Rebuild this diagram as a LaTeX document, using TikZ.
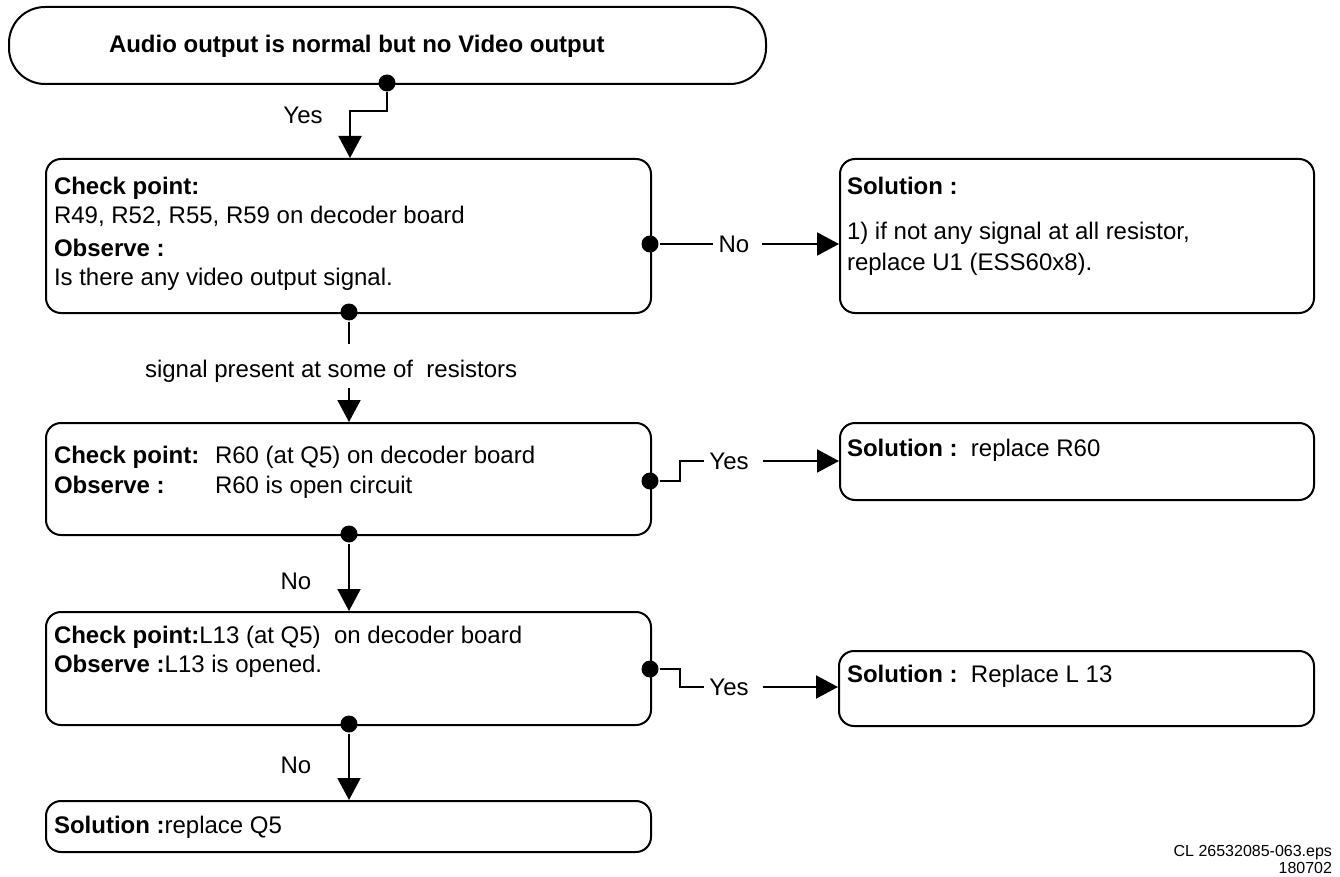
\documentclass[tikz,border=0pt]{standalone}
\usepackage{fontspec}
\setmainfont{Liberation Sans}
\usetikzlibrary{arrows.meta}

\begin{document}
\begin{tikzpicture}[x=1pt, y=-1pt, line width=2pt,
    box/.style={draw, rounded corners=15pt, anchor=north west, inner sep=0pt},
    dot/.style={circle, fill, inner sep=0pt, minimum size=17pt},
    txt/.style={anchor=base west, inner sep=0pt, font=\fontsize{24}{30}\selectfont},
    lbl/.style={inner sep=0pt, font=\fontsize{24}{30}\selectfont},
    note/.style={anchor=base east, inner sep=0pt, font=\fontsize{16}{17}\selectfont},
    arr/.style={-{Triangle[length=22pt, width=23pt]}}]
        \useasboundingbox (0,0) rectangle (1340,877);

        % Start
        \node[box, rounded corners=36pt, minimum width=757pt, minimum height=77pt] (start) at (8,6) {};
        \node[txt] (t0) at (108,53) {\bfseries Audio output is normal but no Video output};

        % Check boxes
        \node[box, minimum width=605pt, minimum height=154pt] (chk1) at (45,158) {};
        \node[box, minimum width=605pt, minimum height=112pt] (chk2) at (45,422) {};
        \node[box, minimum width=605pt, minimum height=113pt] (chk3) at (45,611) {};
        \node[box, minimum width=605pt, minimum height=51pt]  (fix)  at (45,800) {};

        % Solution boxes
        \node[box, minimum width=474pt, minimum height=154pt] (sol1) at (839,158) {};
        \node[box, minimum width=474pt, minimum height=77pt]  (sol2) at (839,422) {};
        \node[box, minimum width=475pt, minimum height=75pt]  (sol3) at (838,650) {};

        % Texts
        \node[txt] (c1a) at (53,195) {\bfseries Check point:};
        \node[txt] (c1b) at (53,224) {R49, R52, R55, R59 on decoder board};
        \node[txt] (c1c) at (53,256) {\bfseries Observe :};
        \node[txt] (c1d) at (53,285) {Is there any video output signal.};
        \node[txt] (s1a) at (846,195) {\bfseries Solution :};
        \node[txt] (s1b) at (846,240) {1) if not any signal at all resistor,};
        \node[txt] (s1c) at (846,270) {replace U1 (ESS60x8).};
        \node[txt] (c2a) at (53,463) {\bfseries Check point:};
        \node[txt] (c2b) at (214,463) {R60 (at Q5) on decoder board};
        \node[txt] (c2c) at (53,493) {\bfseries Observe :};
        \node[txt] (c2d) at (214,493) {R60 is open circuit};
        \node[txt] (s2a) at (846,456) {\textbf{Solution :}\ \ replace R60};
        \node[txt] (c3a) at (53,643) {\textbf{Check point:}L13 (at Q5)\ \ on decoder board};
        \node[txt] (c3b) at (53,672) {\textbf{Observe :}L13 is opened.};
        \node[txt] (s3a) at (846,682) {\textbf{Solution :}\ \ Replace L 13};
        \node[txt] (f1)  at (53,833) {\textbf{Solution :}replace Q5};

        % Dots
        \node[dot] (d0)  at (387,83)  {};
        \node[dot] (d1)  at (650,244) {};
        \node[dot] (d1b) at (349,312) {};
        \node[dot] (d2)  at (650,481) {};
        \node[dot] (d2b) at (349,534) {};
        \node[dot] (d3)  at (650,669) {};
        \node[dot] (d3b) at (349,724) {};

        % Labels
        \node[lbl] (yes0) at (303,115) {Yes};
        \node[lbl] (no1)  at (734,244) {No};
        \node[txt] (sig)  at (144,377) {signal present at some of\ \ resistors};
        \node[lbl] (yes2) at (729,461) {Yes};
        \node[lbl] (no2)  at (296,581) {No};
        \node[lbl] (yes3) at (729,687) {Yes};
        \node[lbl] (no3)  at (296,765) {No};
        \coordinate (s0) at (350,158);
        \coordinate (s1) at (349,344);
        \coordinate (s2) at (349,388);

        % Connectors
        \draw[arr] (d0) -- ++(0,28) -| (s0);
        \draw[shorten >=5pt] (d1) -- (no1.west);
        \draw[arr, shorten <=12pt] (no1.east) -- (no1.east -| sol1.west);
        \draw (d1b) -- (s1);
        \draw[arr] (s2) -- (s2 |- chk2.north);
        \draw[shorten >=4pt] (d2) -| ([xshift=-28pt]yes2.west) -- (yes2.west);
        \draw[arr, shorten <=13pt] (yes2.east) -- (yes2.east -| sol2.west);
        \draw[arr] (d2b) -- (d2b |- chk3.north);
        \draw[shorten >=4pt] (d3) -| ([xshift=-28pt]yes3.west) -- (yes3.west);
        \draw[arr, shorten <=13pt] (yes3.east) -- (yes3.east -| sol3.west);
        \draw[arr] (d3b) -- (d3b |- fix.north);

        % Footer
        \node[note] (n1) at (1333,856) {CL 26532085-063.eps};
        \node[note] (n2) at (1333,873) {180702};
\end{tikzpicture}
\end{document}
